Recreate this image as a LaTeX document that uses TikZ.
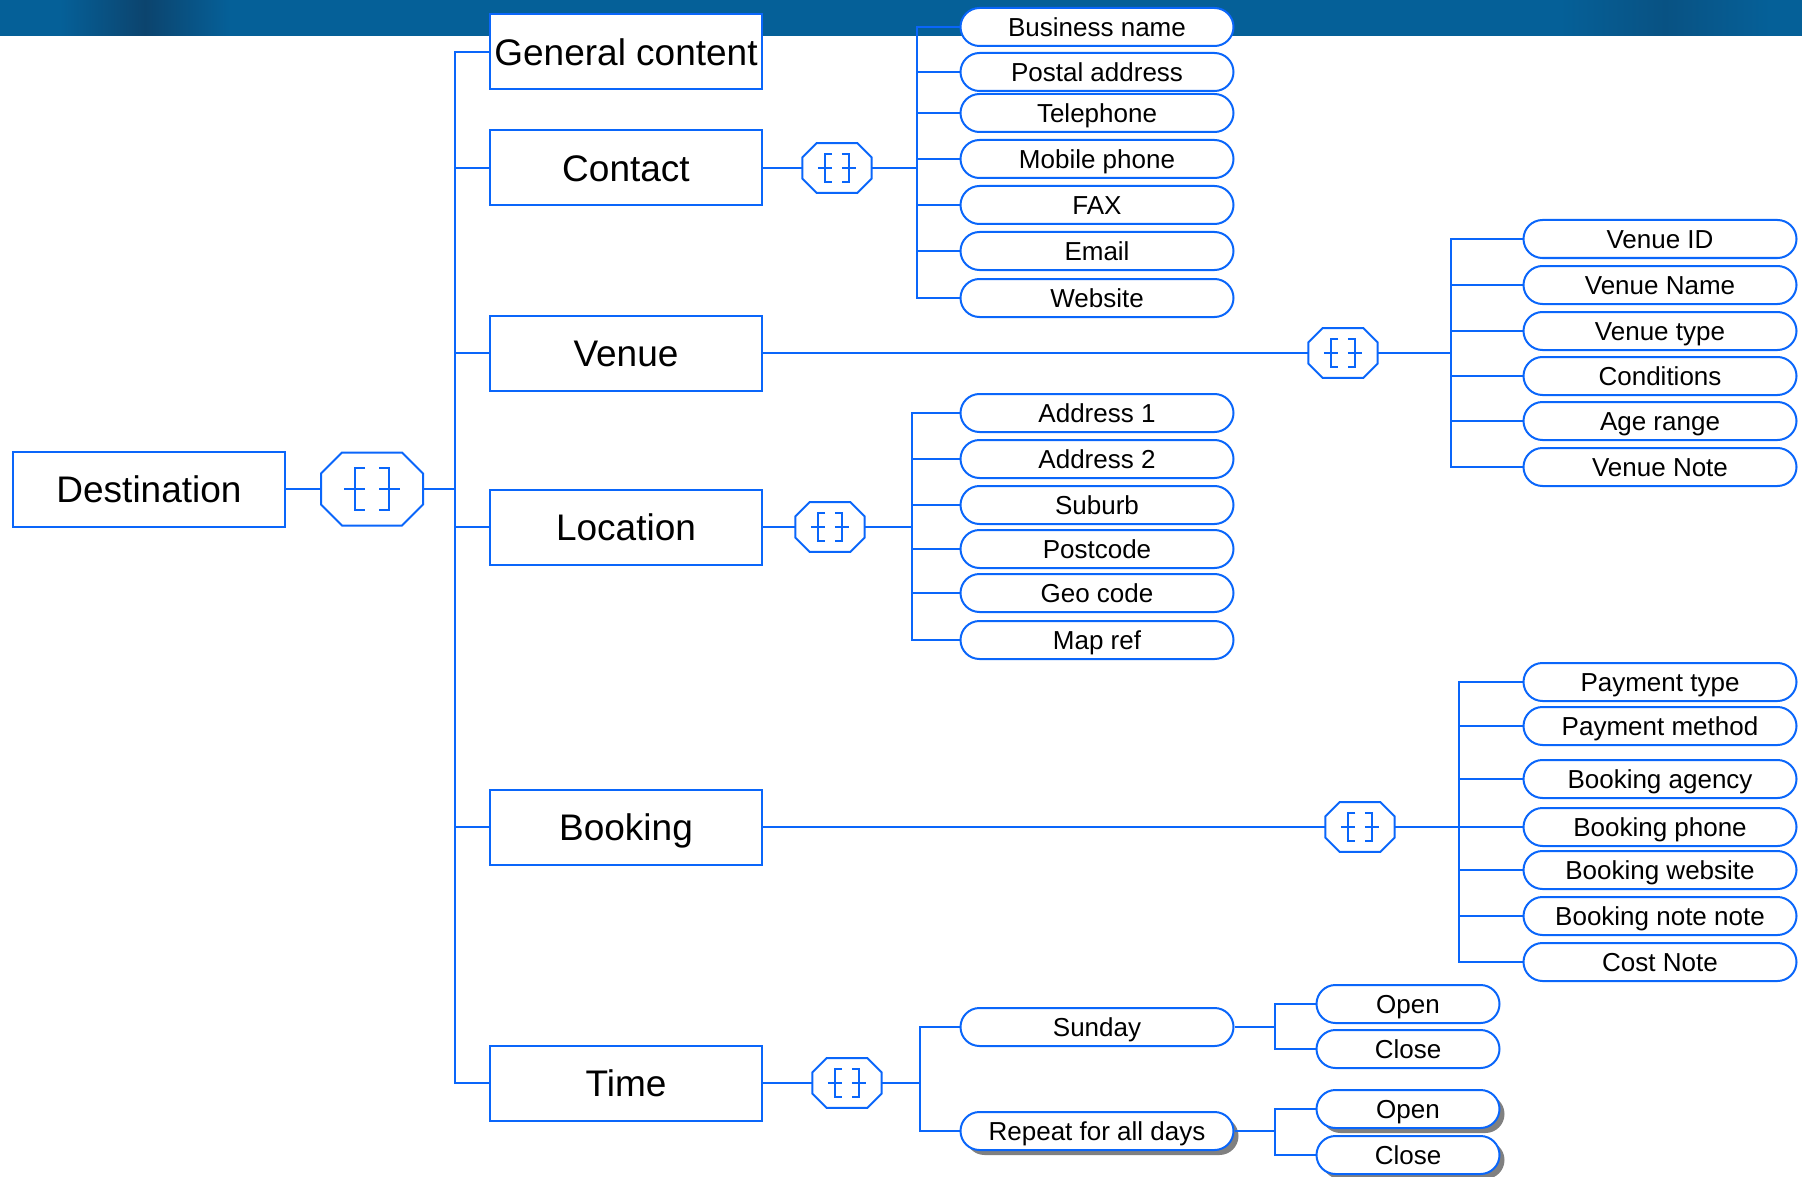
\documentclass[tikz,border=0pt]{standalone}
\usepackage{fontspec}
\setmainfont{Liberation Sans}
\usetikzlibrary{shadows}
\definecolor{linkblue}{RGB}{10,102,250}
\definecolor{bannerblue}{RGB}{5,96,152}
\definecolor{bannerdark}{RGB}{12,68,110}

\tikzset{
    conn/.style={draw=linkblue, line width=2pt},
    mainbox/.style={draw=linkblue, line width=2pt, fill=white, minimum width=272pt,
        minimum height=75pt, inner sep=0pt, text height=26.5pt, text depth=0pt,
        font=\fontsize{37}{40}\selectfont},
    field/.style={draw=linkblue, line width=2pt, fill=white, rounded corners=19pt,
        minimum width=273pt, minimum height=38pt, inner sep=0pt, text height=18.6pt, text depth=0pt,
        font=\fontsize{26}{28}\selectfont},
    slot/.style={field, minimum width=183pt},
    shadowed/.style={drop shadow={shadow xshift=5pt, shadow yshift=-5pt, fill=black!50, opacity=1}},
    seq/.style={shape=rectangle, inner sep=0pt, minimum width={102pt*#1}, minimum height={73pt*#1}}
}

% octagon with sequence sign, drawn round a seq node
\newcommand\seqsign[2]{%
    \begin{scope}[shift={(#1.center)}, scale=#2]
        \draw[conn] (-51,-15.5) -- (-30,-36.5) -- (30,-36.5) -- (51,-15.5) -- (51,15.5)
            -- (30,36.5) -- (-30,36.5) -- (-51,15.5) -- cycle;
        \draw[conn] (-7,-21) -| (-17,21) -- (-7,21) (-28,0) -- (-7,0);
        \draw[conn] (7,-21) -| (17,21) -- (7,21) (7,0) -- (28,0);
    \end{scope}}

\begin{document}
\begin{tikzpicture}[x=1pt, y=-1pt]
    \useasboundingbox (0,0) rectangle (1802,1177);
    % banner
    \fill[bannerblue] (0,0) rectangle (1802,36);
    \shade[left color=bannerblue, right color=bannerblue, middle color=bannerdark] (60,0) rectangle (230,36);
    \shade[left color=bannerblue, right color=bannerblue, middle color=bannerdark!50!bannerblue] (1560,0) rectangle (1770,36);

    % root
    \node[mainbox] (dest) at (149,489) {Destination};
    \node[seq=1] (destseq) at (372,489) {};
    \seqsign{destseq}{1}
    \draw[conn] (dest.east) -- (destseq.west);
    \foreach \n/\y/\t in {gen/52/General content, contact/168/Contact, venue/353/Venue,
        loc/527/Location, book/827/Booking, time/1083/Time}
    {
        \node[mainbox] (\n) at (626,\y) {\t};
        \draw[conn] (destseq.east) -- ++(32,0) |- (\n.west);
    }

    % contact
    \node[seq=0.68] (contactseq) at (837,168) {};
    \seqsign{contactseq}{0.68}
    \draw[conn] (contact.east) -- (contactseq.west);
    \foreach \i/\y/\t in {1/27/Business name, 2/72/Postal address, 3/113/Telephone,
        4/159/Mobile phone, 5/205/FAX, 6/251/Email, 7/298/Website}
    {
        \node[field] (contact\i) at (1097,\y) {\t};
        \draw[conn] (contactseq.east) -- ++(45,0) |- (contact\i.west);
    }

    % venue
    \node[seq=0.68] (venueseq) at (1343,353) {};
    \seqsign{venueseq}{0.68}
    \draw[conn] (venue.east) -- (venueseq.west);
    \foreach \i/\y/\t in {1/239/Venue ID, 2/285/Venue Name, 3/331/Venue type,
        4/376/Conditions, 5/421/Age range, 6/467/Venue Note}
    {
        \node[field] (venue\i) at (1660,\y) {\t};
        \draw[conn] (venueseq.east) -- ++(73,0) |- (venue\i.west);
    }

    % location
    \node[seq=0.68] (locseq) at (830,527) {};
    \seqsign{locseq}{0.68}
    \draw[conn] (loc.east) -- (locseq.west);
    \foreach \i/\y/\t in {1/413/Address 1, 2/459/Address 2, 3/505/Suburb,
        4/549/Postcode, 5/593/Geo code, 6/640/Map ref}
    {
        \node[field] (loc\i) at (1097,\y) {\t};
        \draw[conn] (locseq.east) -- ++(47,0) |- (loc\i.west);
    }

    % booking
    \node[seq=0.68] (bookseq) at (1360,827) {};
    \seqsign{bookseq}{0.68}
    \draw[conn] (book.east) -- (bookseq.west);
    \foreach \i/\y/\t in {1/682/Payment type, 2/726/Payment method, 3/779/Booking agency,
        4/827/Booking phone, 5/870/Booking website, 6/916/Booking note note, 7/962/Cost Note}
    {
        \node[field] (book\i) at (1660,\y) {\t};
        \draw[conn] (bookseq.east) -- ++(64,0) |- (book\i.west);
    }

    % time
    \node[seq=0.68] (timeseq) at (847,1083) {};
    \seqsign{timeseq}{0.68}
    \draw[conn] (time.east) -- (timeseq.west);
    \node[field] (sun) at (1097,1027) {Sunday};
    \node[field, shadowed] (rep) at (1097,1131) {Repeat for all days};
    \draw[conn] (timeseq.east) -- ++(38,0) |- (sun.west);
    \draw[conn] (timeseq.east) -- ++(38,0) |- (rep.west);
    \node[slot] (sunopen) at (1408,1004) {Open};
    \node[slot] (sunclose) at (1408,1049) {Close};
    \node[slot, shadowed] (repopen) at (1408,1109) {Open};
    \node[slot, shadowed] (repclose) at (1408,1155) {Close};
    \foreach \d/\s in {sun/sunopen, sun/sunclose, rep/repopen, rep/repclose}
        \draw[conn] (\d.east) -- ++(40,0) |- (\s.west);
\end{tikzpicture}
\end{document}
